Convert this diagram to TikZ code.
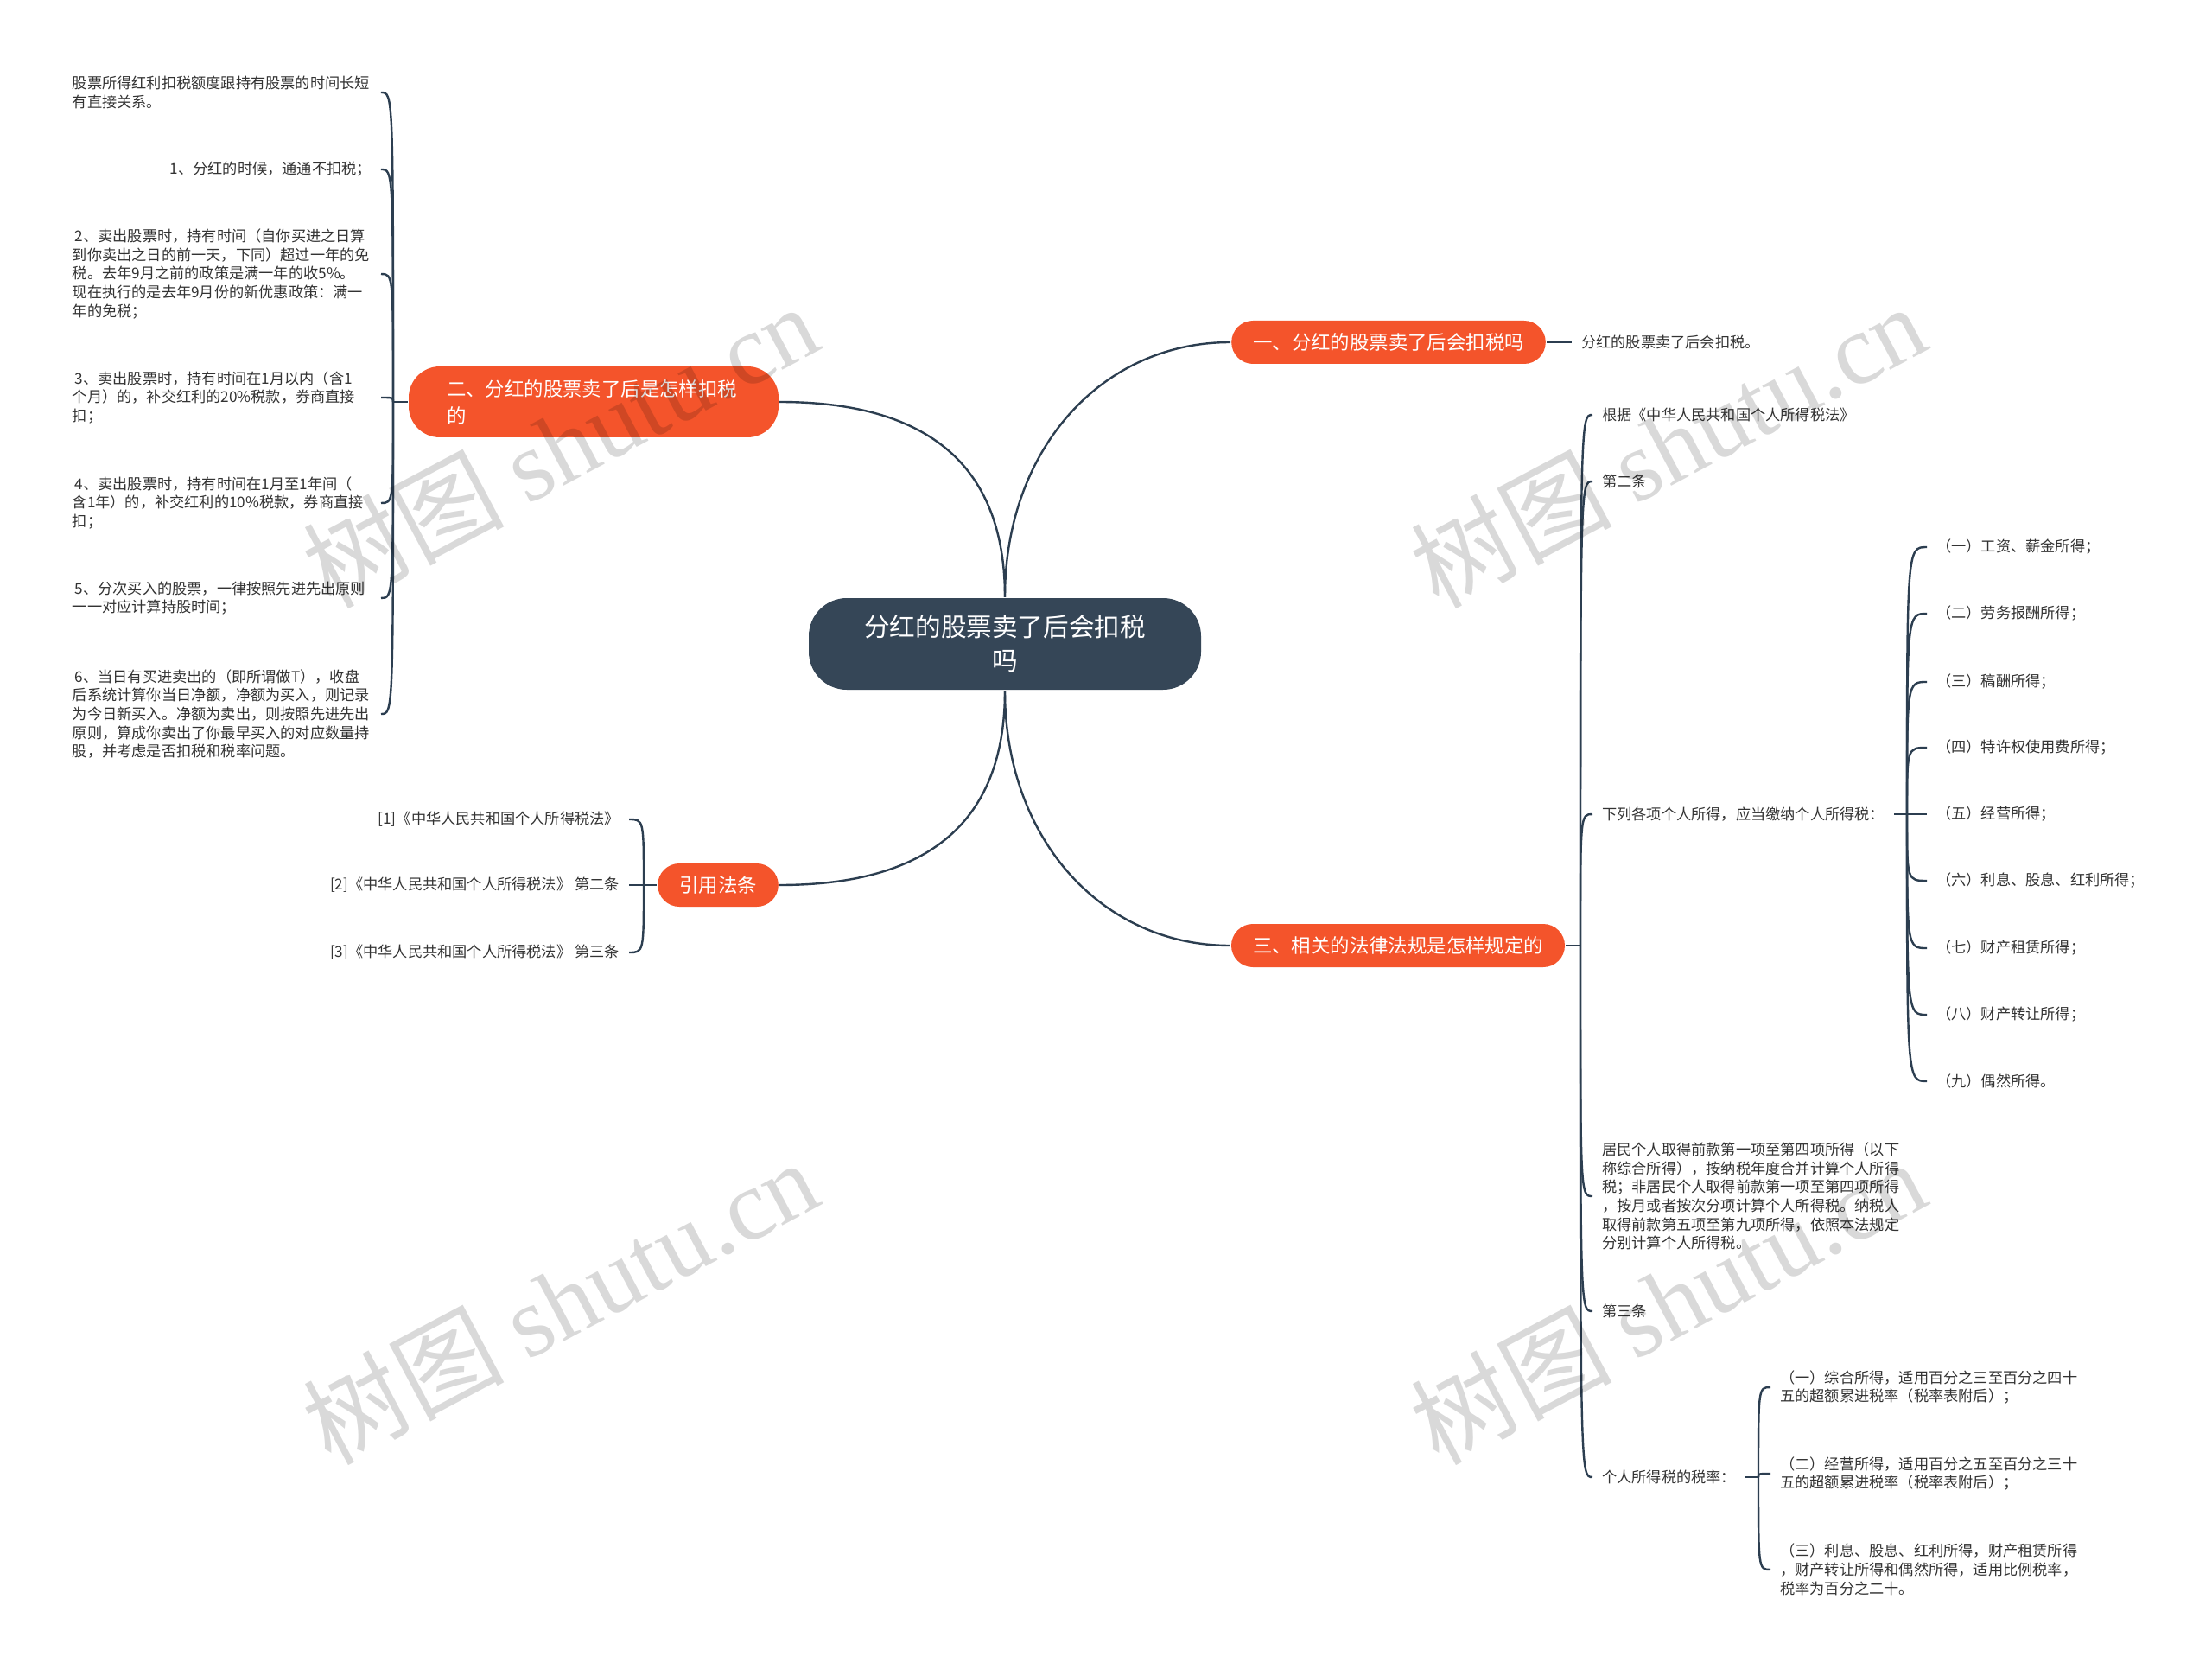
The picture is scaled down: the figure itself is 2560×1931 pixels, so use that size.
\documentclass[tikz,border=0pt]{standalone}
\usepackage{fontspec}
\setmainfont{Noto Sans CJK SC}
\newfontfamily\wmserif{Liberation Serif}
\usetikzlibrary{positioning}
\definecolor{rootcol}{HTML}{354657}
\definecolor{branchcol}{HTML}{F4542B}
\definecolor{linecol}{HTML}{2C3E50}
\definecolor{leafcol}{HTML}{333333}

\begin{document}
\begin{tikzpicture}[x=0.5pt,y=-0.5pt,line width=1.2pt]

		\tikzset{root st/.style={fill=rootcol, text=white,
								rounded corners=22pt,
								font=\fontsize{14.8}{19.5}\selectfont,
								text width=165pt, align=center,
								minimum height=53pt, inner xsep=31pt},
				branch st/.style={fill=branchcol, text=white,
								rounded corners=12.5pt,
								font=\fontsize{11.2}{15.5}\selectfont,
								minimum height=25pt, inner xsep=12.5pt},
				leaf st/.style={text=leafcol,
								font=\fontsize{8.6}{10.85}\selectfont,
								align=left, inner xsep=5pt, inner ysep=2pt},
				wide leaf/.style={leaf st, text width=173pt},
				link/.style={draw=linecol, line width=1.2pt},
				wm st/.style={text=black, opacity=0.15, rotate=28,
								font=\fontsize{58}{58}\selectfont}}

		\fill[white] (0,0) rectangle (2560,1931);
		\useasboundingbox (0,0) rectangle (2560,1931);

		% root and main branches
		\node[root st] (root) at (1163,745) {分红的股票卖了后会扣税\\吗};
		\node[branch st] (b1) at (1607,396) {一、分红的股票卖了后会扣税吗};
		\node[branch st, text width=170pt, align=left, inner xsep=22pt,
			  minimum height=41pt, rounded corners=18pt] (b2) at (687,465)
			{二、分红的股票卖了后是怎样扣税\\的};
		\node[branch st] (b4) at (831,1024) {引用法条};
		\node[branch st] (b3) at (1618,1094) {三、相关的法律法规是怎样规定的};

		\draw[link] (root.north) .. controls +(0,-170) and +(-150,0) .. (b1.west);
		\draw[link] (root.north) .. controls +(0,-170) and +(150,0) .. (b2.east);
		\draw[link] (root.south) .. controls +(0,170) and +(150,0) .. (b4.east);
		\draw[link] (root.south) .. controls +(0,170) and +(-150,0) .. (b3.west);

		% branch one
		\node[leaf st, anchor=west] (r1) at (1819,396) {分红的股票卖了后会扣税。};
		\draw[link] (b1.east) -- (r1.west);

		% branch two
		\coordinate (j2) at (455,465);
		\node[wide leaf, anchor=east] (l0) at (441,107) {股票所得红利扣税额度跟持有股票的时间长短\\有直接关系。};
		\node[leaf st, anchor=east] (l1) at (441,196) {1、分红的时候，通通不扣税；};
		\node[wide leaf, anchor=east] (l2) at (441,317) {\hspace{1.5pt}2、卖出股票时，持有时间（自你买进之日算\\到你卖出之日的前一天，下同）超过一年的免\\税。去年9月之前的政策是满一年的收5\%。\\现在执行的是去年9月份的新优惠政策：满一\\年的免税；};
		\node[wide leaf, anchor=east] (l3) at (441,460) {\hspace{1.5pt}3、卖出股票时，持有时间在1月以内（含1\\个月）的，补交红利的20\%税款，券商直接\\扣；};
		\node[wide leaf, anchor=east] (l4) at (441,582) {\hspace{1.5pt}4、卖出股票时，持有时间在1月至1年间（\\含1年）的，补交红利的10\%税款，券商直接\\扣；};
		\node[wide leaf, anchor=east] (l5) at (441,692) {\hspace{1.5pt}5、分次买入的股票，一律按照先进先出原则\\一一对应计算持股时间；};
		\node[wide leaf, anchor=east] (l6) at (441,826) {\hspace{1.5pt}6、当日有买进卖出的（即所谓做T），收盘\\后系统计算你当日净额，净额为买入，则记录\\为今日新买入。净额为卖出，则按照先进先出\\原则，算成你卖出了你最早买入的对应数量持\\股，并考虑是否扣税和税率问题。};

		\draw[link] (b2.west) -- (j2);
		\draw[link] (j2) .. controls (j2 |- l0.east) .. (l0.east);
		\draw[link] (j2) .. controls (j2 |- l1.east) .. (l1.east);
		\draw[link] (j2) .. controls (j2 |- l2.east) .. (l2.east);
		\draw[link] (j2) .. controls (j2 |- l3.east) .. (l3.east);
		\draw[link] (j2) .. controls (j2 |- l4.east) .. (l4.east);
		\draw[link] (j2) .. controls (j2 |- l5.east) .. (l5.east);
		\draw[link] (j2) .. controls (j2 |- l6.east) .. (l6.east);

		% citations
		\coordinate (j4) at (745,1024);
		\node[leaf st, anchor=east] (c1) at (728,948) {[1]《中华人民共和国个人所得税法》};
		\node[leaf st, anchor=east] (c2) at (728,1024) {[2]《中华人民共和国个人所得税法》 第二条};
		\node[leaf st, anchor=east] (c3) at (728,1102) {[3]《中华人民共和国个人所得税法》 第三条};

		\draw[link] (b4.west) -- (j4);
		\draw[link] (j4) .. controls (j4 |- c1.east) .. (c1.east);
		\draw[link] (j4) -- (c2.east);
		\draw[link] (j4) .. controls (j4 |- c3.east) .. (c3.east);

		% branch three
		\coordinate (j3) at (1829,1094);
		\node[leaf st, anchor=west] (r2) at (1843,480) {根据《中华人民共和国个人所得税法》};
		\node[leaf st, anchor=west] (r3) at (1843,557) {第二条};
		\node[leaf st, anchor=west] (r4) at (1843,942) {下列各项个人所得，应当缴纳个人所得税：};
		\node[leaf st, anchor=west] (r5) at (1843,1384) {居民个人取得前款第一项至第四项所得（以下\\称综合所得），按纳税年度合并计算个人所得\\税；非居民个人取得前款第一项至第四项所得\\，按月或者按次分项计算个人所得税。纳税人\\取得前款第五项至第九项所得，依照本法规定\\分别计算个人所得税。};
		\node[leaf st, anchor=west] (r6) at (1843,1517) {第三条};
		\node[leaf st, anchor=west] (r7) at (1843,1709) {个人所得税的税率：};

		\draw[link] (b3.east) -- (j3);
		\draw[link] (j3) .. controls (j3 |- r2.west) .. (r2.west);
		\draw[link] (j3) .. controls (j3 |- r3.west) .. (r3.west);
		\draw[link] (j3) .. controls (j3 |- r4.west) .. (r4.west);
		\draw[link] (j3) .. controls (j3 |- r5.west) .. (r5.west);
		\draw[link] (j3) .. controls (j3 |- r6.west) .. (r6.west);
		\draw[link] (j3) .. controls (j3 |- r7.west) .. (r7.west);

		% income items
		\coordinate (j5) at (2207,942);
		\node[leaf st, anchor=west] (s1) at (2230,633) {（一）工资、薪金所得；};
		\node[leaf st, anchor=west] (s2) at (2230,710) {（二）劳务报酬所得；};
		\node[leaf st, anchor=west] (s3) at (2230,789) {（三）稿酬所得；};
		\node[leaf st, anchor=west] (s4) at (2230,865) {（四）特许权使用费所得；};
		\node[leaf st, anchor=west] (s5) at (2230,942) {（五）经营所得；};
		\node[leaf st, anchor=west] (s6) at (2230,1019) {（六）利息、股息、红利所得；};
		\node[leaf st, anchor=west] (s7) at (2230,1097) {（七）财产租赁所得；};
		\node[leaf st, anchor=west] (s8) at (2230,1174) {（八）财产转让所得；};
		\node[leaf st, anchor=west] (s9) at (2230,1251) {（九）偶然所得。};

		\draw[link] (r4.east) -- (j5);
		\draw[link] (j5) .. controls (j5 |- s1.west) .. (s1.west);
		\draw[link] (j5) .. controls (j5 |- s2.west) .. (s2.west);
		\draw[link] (j5) .. controls (j5 |- s3.west) .. (s3.west);
		\draw[link] (j5) .. controls (j5 |- s4.west) .. (s4.west);
		\draw[link] (j5) -- (s5.west);
		\draw[link] (j5) .. controls (j5 |- s6.west) .. (s6.west);
		\draw[link] (j5) .. controls (j5 |- s7.west) .. (s7.west);
		\draw[link] (j5) .. controls (j5 |- s8.west) .. (s8.west);
		\draw[link] (j5) .. controls (j5 |- s9.west) .. (s9.west);

		% tax rates
		\coordinate (j7) at (2035,1709);
		\node[leaf st, anchor=west] (t1) at (2049,1605) {（一）综合所得，适用百分之三至百分之四十\\五的超额累进税率（税率表附后）；};
		\node[leaf st, anchor=west] (t2) at (2049,1705) {（二）经营所得，适用百分之五至百分之三十\\五的超额累进税率（税率表附后）；};
		\node[leaf st, anchor=west] (t3) at (2049,1816) {（三）利息、股息、红利所得，财产租赁所得\\，财产转让所得和偶然所得，适用比例税率，\\税率为百分之二十。};

		\draw[link] (r7.east) -- (j7);
		\draw[link] (j7) .. controls (j7 |- t1.west) .. (t1.west);
		\draw[link] (j7) .. controls (j7 |- t2.west) .. (t2.west);
		\draw[link] (j7) .. controls (j7 |- t3.west) .. (t3.west);

		% watermarks
		\node[wm st] (wm1) at (648,515) {树图 {\wmserif shutu.cn}};
		\node[wm st] (wm2) at (1930,515) {树图 {\wmserif shutu.cn}};
		\node[wm st] (wm3) at (648,1505) {树图 {\wmserif shutu.cn}};
		\node[wm st] (wm4) at (1930,1505) {树图 {\wmserif shutu.cn}};
\end{tikzpicture}
\end{document}
